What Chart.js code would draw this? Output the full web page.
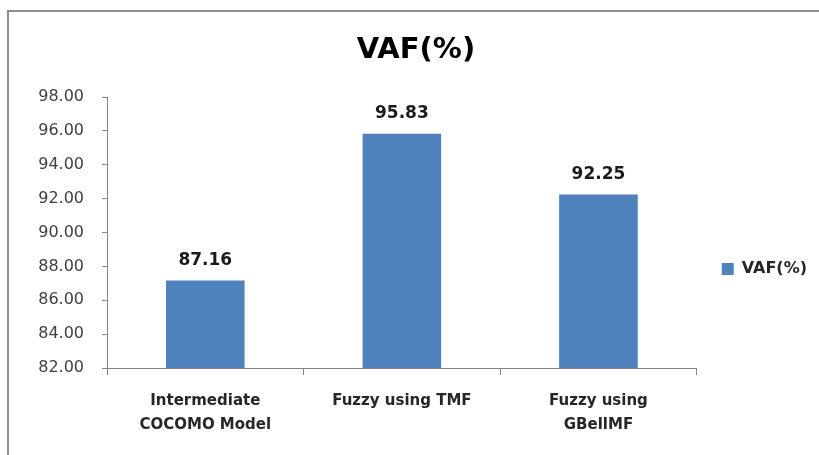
<!DOCTYPE html>
<html>
<head>
<meta charset="utf-8">
<script src="https://cdn.jsdelivr.net/npm/chart.js@4/dist/chart.umd.min.js"></script>
<style>
  html, body { margin: 0; padding: 0; background: #ffffff; overflow: hidden; }
  canvas { display: block; }
</style>
</head>
<body>
<canvas id="chart" width="819" height="455"></canvas>
<script>
// Model names along the category axis (arrays wrap onto two lines)
const categories = [
  ['Intermediate', 'COCOMO Model'],
  'Fuzzy using TMF',
  ['Fuzzy using', 'GBellMF']
];
// Variance-accounted-for percentages
const vafValues = [87.16, 95.83, 92.25];
const seriesName = 'VAF(%)';
const chartTitle = 'VAF(%)';
// Value axis range
const yMin = 82;
const yMax = 98;
const yStep = 2;

const FONT = "'DejaVu Sans', sans-serif";

// Gray outline of the chart panel (its left and top edges fall inside the canvas)
const panelFrame = {
  id: 'panelFrame',
  beforeDraw(chart) {
    const ctx = chart.ctx;
    ctx.save();
    ctx.strokeStyle = '#8e8e8e';
    ctx.lineWidth = 2;
    ctx.beginPath();
    ctx.moveTo(8, chart.height);
    ctx.lineTo(8, 11);
    ctx.lineTo(chart.width, 11);
    ctx.stroke();
    ctx.restore();
  }
};

// Writes each bar's value above it
const valueLabels = {
  id: 'valueLabels',
  afterDatasetsDraw(chart) {
    const ctx = chart.ctx;
    ctx.save();
    ctx.font = "bold 17px " + FONT;
    ctx.fillStyle = '#1a1a1a';
    ctx.textAlign = 'center';
    ctx.textBaseline = 'middle';
    chart.getDatasetMeta(0).data.forEach((bar, i) => {
      const v = chart.data.datasets[0].data[i];
      ctx.fillText(v.toFixed(2), bar.x, bar.y - 20);
    });
    ctx.restore();
  }
};

new Chart(document.getElementById('chart'), {
  type: 'bar',
  data: {
    labels: categories,
    datasets: [{
      label: seriesName,
      data: vafValues,
      backgroundColor: '#4f81bd',
      borderColor: '#4a7ebb',
      borderWidth: 0,
      barPercentage: 1,
      categoryPercentage: 0.4
    }]
  },
  options: {
    responsive: false,
    animation: false,
    layout: { padding: { left: 15, right: 2, top: 0, bottom: 0 } },
    plugins: {
      title: {
        display: true,
        text: chartTitle,
        color: '#000000',
        font: { family: FONT, size: 29, weight: 'bold', lineHeight: 1.2 },
        padding: { top: 33, bottom: 29.2 }
      },
      legend: {
        position: 'right',
        title: { display: true, text: ' ', padding: { top: 68.6, bottom: 0 } },
        labels: {
          boxWidth: 12,
          boxHeight: 12,
          padding: 25,
          color: '#262626',
          font: { family: FONT, size: 16, weight: 'bold' }
        }
      },
      tooltip: { enabled: false }
    },
    scales: {
      x: {
        afterFit(scale) { scale.height = 87; },
        grid: {
          display: true,
          drawOnChartArea: false,
          drawTicks: true,
          tickLength: 7,
          color: '#868686',
          offset: true
        },
        border: { display: true, color: '#868686', width: 1 },
        ticks: {
          color: '#262626',
          padding: 14,
          maxRotation: 0,
          autoSkip: false,
          font: { family: FONT, size: 15, weight: 'bold', lineHeight: 1.6 }
        }
      },
      y: {
        min: yMin,
        max: yMax,
        afterFit(scale) { scale.width = 92; },
        grid: {
          display: true,
          drawOnChartArea: false,
          drawTicks: true,
          tickLength: 5,
          color: '#868686'
        },
        border: { display: true, color: '#868686', width: 1 },
        ticks: {
          stepSize: yStep,
          color: '#404040',
          padding: 18,
          font: { family: FONT, size: 16 },
          callback: (v) => Number(v).toFixed(2)
        }
      }
    }
  },
  plugins: [panelFrame, valueLabels]
});
</script>
</body>
</html>
